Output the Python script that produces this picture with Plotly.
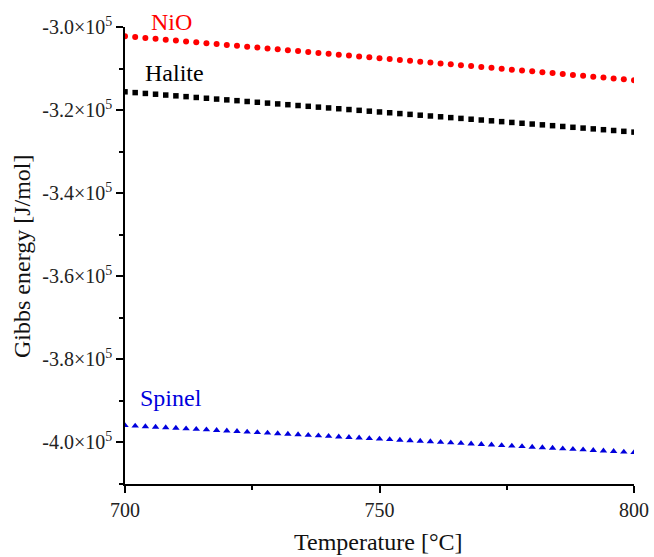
import plotly.graph_objects as go

temperature = [700, 702, 704, 706, 708, 710, 712, 714, 716, 718,
               720, 722, 724, 726, 728, 730, 732, 734, 736, 738,
               740, 742, 744, 746, 748, 750, 752, 754, 756, 758,
               760, 762, 764, 766, 768, 770, 772, 774, 776, 778,
               780, 782, 784, 786, 788, 790, 792, 794, 796, 798, 800]

nio = [-302200, -302410, -302620, -302840, -303050, -303260, -303470, -303680, -303900, -304110,
       -304320, -304530, -304740, -304960, -305170, -305380, -305590, -305800, -306020, -306230,
       -306440, -306650, -306860, -307080, -307290, -307500, -307710, -307920, -308140, -308350,
       -308560, -308770, -308980, -309200, -309410, -309620, -309830, -310040, -310260, -310470,
       -310680, -310890, -311100, -311320, -311530, -311740, -311950, -312160, -312380, -312590,
       -312800]

halite = [-315600, -315790, -315990, -316180, -316380, -316570, -316760, -316960, -317150, -317350,
          -317540, -317730, -317930, -318120, -318320, -318510, -318700, -318900, -319090, -319290,
          -319480, -319670, -319870, -320060, -320260, -320450, -320640, -320840, -321030, -321230,
          -321420, -321610, -321810, -322000, -322200, -322390, -322580, -322780, -322970, -323170,
          -323360, -323550, -323750, -323940, -324140, -324330, -324520, -324720, -324910, -325110,
          -325300]

spinel = [-395900, -396030, -396160, -396290, -396420, -396550, -396680, -396810, -396940, -397070,
          -397200, -397330, -397460, -397590, -397720, -397850, -397980, -398110, -398240, -398370,
          -398500, -398630, -398760, -398890, -399020, -399150, -399280, -399410, -399540, -399670,
          -399800, -399930, -400060, -400190, -400320, -400450, -400580, -400710, -400840, -400970,
          -401100, -401230, -401360, -401490, -401620, -401750, -401880, -402010, -402140, -402270,
          -402400]

y_tickvals = [-300000, -320000, -340000, -360000, -380000, -400000]
y_ticktext = ["-3.0×10<sup>5</sup>", "-3.2×10<sup>5</sup>", "-3.4×10<sup>5</sup>",
              "-3.6×10<sup>5</sup>", "-3.8×10<sup>5</sup>", "-4.0×10<sup>5</sup>"]
x_tickvals = [700, 750, 800]

labels = ["NiO", "Halite", "Spinel"]
label_colors = ["#ff0000", "#000000", "#0000dd"]
label_x = [0.0923, 0.0963, 0.0904]
label_y = [1.011, 0.899, 0.188]

FONT = "Liberation Serif, Times New Roman, serif"

fig = go.Figure()
fig.add_trace(go.Scatter(x=temperature, y=nio, mode="markers", name="NiO",
                         marker=dict(symbol="circle", size=6, color="#ff0000")))
fig.add_trace(go.Scatter(x=temperature, y=halite, mode="markers", name="Halite",
                         marker=dict(symbol="square", size=5.5, color="#000000")))
fig.add_trace(go.Scatter(x=temperature, y=spinel, mode="markers", name="Spinel",
                         marker=dict(symbol="triangle-up", size=6.5, color="#0000dd")))

for t, c, x, y in zip(labels, label_colors, label_x, label_y):
    fig.add_annotation(x=x, y=y, text=t, showarrow=False, xref="paper", yref="paper",
                       xanchor="center", yanchor="middle",
                       font=dict(family=FONT, size=24, color=c))

# axis titles
fig.add_annotation(x=(378 - 125) / 509, y=(484 - 542) / 457, xref="paper", yref="paper",
                   text="Temperature [°C]", showarrow=False, xanchor="center", yanchor="middle",
                   font=dict(family=FONT, size=24, color="#111111"))
fig.add_annotation(x=(22 - 125) / 509, y=(484 - 256) / 457, xref="paper", yref="paper",
                   text="Gibbs energy [J/mol]", showarrow=False, textangle=-90,
                   xanchor="center", yanchor="middle",
                   font=dict(family=FONT, size=24, color="#111111"))

fig.update_layout(
    width=654, height=557,
    margin=dict(l=125, r=20, t=27, b=73),
    plot_bgcolor="white", paper_bgcolor="white",
    showlegend=False,
    font=dict(family=FONT, size=19, color="#222222"),
    xaxis=dict(range=[700, 800], tickvals=x_tickvals, ticks="outside", ticklen=7,
               tickwidth=1.5, tickcolor="black", showline=True, linecolor="black",
               linewidth=1.5, showgrid=False, zeroline=False, automargin=False,
               tickfont=dict(family=FONT, size=20, color="#222222"),
               minor=dict(ticks="outside", ticklen=4, tickwidth=1.5, tickcolor="black",
                          tickvals=[725, 775])),
    yaxis=dict(range=[-410000, -300000], tickvals=y_tickvals, ticktext=y_ticktext,
               ticks="outside", ticklen=7, tickwidth=1.5, tickcolor="black",
               showline=True, linecolor="black", linewidth=1.5, showgrid=False,
               zeroline=False, automargin=False,
               tickfont=dict(family=FONT, size=20, color="#222222"),
               minor=dict(ticks="outside", ticklen=4, tickwidth=1.5, tickcolor="black",
                          tickvals=[-310000, -330000, -350000, -370000, -390000, -410000])),
)

fig.write_html("out.html")
